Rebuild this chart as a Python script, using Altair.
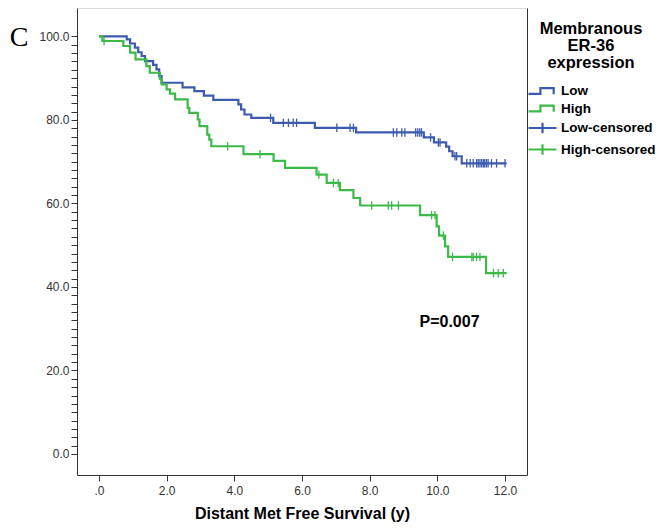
import altair as alt
import pandas as pd

# ---- Kaplan-Meier steps (time in years, survival %) ----
low_t = [0, 0.82, 0.92, 1.06, 1.16, 1.26, 1.36, 1.6, 1.7, 1.78, 1.85, 2.47, 2.82, 3.1, 3.38,
         4.12, 4.2, 4.3, 4.5, 5.15, 6.38, 7.6, 9.6, 9.9, 10.26, 10.35, 10.45, 10.72, 12.05]
low_s = [100, 99.3, 98.3, 97.3, 96.2, 95.3, 94.1, 93.2, 92.1, 90.5, 88.9, 87.8, 86.9, 85.8, 84.8,
         83.7, 82.5, 81.3, 80.5, 79.3, 78.1, 77.0, 75.8, 74.6, 73.6, 72.5, 71.3, 69.6, 69.6]

high_t = [0, 0.1, 0.72, 0.92, 1.08, 1.4, 1.5, 1.8, 1.85, 2.0, 2.1, 2.25, 2.62, 2.67, 2.92, 2.97,
          3.2, 3.26, 3.32, 4.27, 5.16, 5.5, 6.43, 6.73, 7.12, 7.52, 7.72, 9.49, 9.98, 10.05,
          10.23, 10.32, 11.44, 12.05]
high_s = [100, 98.9, 97.7, 96.1, 94.5, 92.9, 91.3, 89.8, 88.5, 87.3, 86.3, 84.9, 82.9, 81.7, 80.1, 78.5,
          76.5, 75.3, 73.7, 71.8, 70.2, 68.5, 66.9, 64.9, 63.2, 61.3, 59.5, 57.2, 54.5, 52.3,
          49.7, 47.2, 43.3, 43.3]

low_cens_t = [5.07, 5.45, 5.6, 5.74, 5.84, 7.03, 7.42, 7.52, 8.7, 8.8, 8.95, 9.04, 9.36, 9.42,
              9.48, 9.53, 9.8, 10.03, 10.08, 10.52, 10.57, 10.87, 10.97, 11.06, 11.16, 11.21,
              11.26, 11.31, 11.36, 11.4, 11.45, 11.5, 11.6, 11.75, 12.0]
low_cens_s = [80.5, 79.3, 79.3, 79.3, 79.3, 78.1, 78.1, 78.1, 77.0, 77.0, 77.0, 77.0, 77.0, 77.0,
              77.0, 77.0, 75.8, 74.6, 74.6, 71.3, 71.3, 69.6, 69.6, 69.6, 69.6, 69.6,
              69.6, 69.6, 69.6, 69.6, 69.6, 69.6, 69.6, 69.6, 69.6]

high_cens_t = [0.15, 3.8, 4.76, 6.5, 6.93, 7.07, 8.06, 8.55, 8.65, 8.85, 9.83, 9.93, 10.18,
               10.45, 11.02, 11.06, 11.16, 11.26, 11.66, 11.8, 11.95]
high_cens_s = [98.9, 73.7, 71.8, 66.9, 64.9, 64.9, 59.5, 59.5, 59.5, 59.5, 57.2, 57.2, 52.3,
               47.2, 47.2, 47.2, 47.2, 47.2, 43.3, 43.3, 43.3]

keys = ["Low", "High", "Low-censored", "High-censored"]
key_colors = ["#3d5bae", "#3cba48", "#3d5bae", "#3cba48"]
legend_title = ["Membranous", "ER-36", "expression"]
x_title = "Distant Met Free Survival (y)"
x_ticks = [0, 2, 4, 6, 8, 10, 12]
y_ticks = list(range(0, 101, 2))
p_text = ["P=0.007"]
p_x = [10.36]
p_y = [31.6]
panel_label = ["C"]

# ---- tables ----
curves = pd.DataFrame({
    "key": ["Low"] * len(low_t) + ["High"] * len(high_t),
    "t": low_t + high_t,
    "s": low_s + high_s,
})
cens = pd.DataFrame({
    "key": ["Low-censored"] * len(low_cens_t) + ["High-censored"] * len(high_cens_t),
    "t": low_cens_t + high_cens_t,
    "s": low_cens_s + high_cens_s,
})
ann = pd.DataFrame({"label": p_text, "t": p_x, "s": p_y})
panel = pd.DataFrame({"label": panel_label})

FONT = "Liberation Sans"
xscale = alt.Scale(domain=[-0.65, 12.65], nice=False, zero=False)
yscale = alt.Scale(domain=[-5.03, 106.8], nice=False, zero=False)
cscale = alt.Scale(domain=keys, range=key_colors)

step_path = "M-1,0.4L0.7,0.4L0.7,-0.4L2.6,-0.4L2.6,0.45"
cross_path = "M-1,0L3,0M1,-0.75L1,0.75"
shape_scale = alt.Scale(domain=keys, range=[step_path, step_path, cross_path, cross_path])
sw_scale = alt.Scale(domain=keys, range=[2.2, 2.2, 1.1, 1.1])

legend_def = alt.Legend(
    title=legend_title, orient="none", legendX=450, legendY=13, padding=0,
    symbolSize=196, symbolFillColor="transparent", symbolOpacity=1, labelOffset=17,
    rowPadding=0.5,
    titleFont=FONT, titleFontSize=16.5, titleFontWeight="bold", titleColor="black",
    titleAlign="center", titleAnchor="middle", titleLineHeight=17, titlePadding=11,
    labelFont=FONT, labelFontSize=13.5, labelFontWeight="bold", labelColor="black",
)

x_axis = alt.Axis(
    orient="bottom",
    values=x_ticks, labelExpr="datum.value == 0 ? '.0' : format(datum.value, '.1f')",
    title=x_title, titleFont=FONT, titleFontSize=16, titleFontWeight="bold",
    titleColor="black", titlePadding=9, labelFont=FONT, labelFontSize=12,
    labelColor="#333333", tickSize=6, tickColor="#333333", domainColor="#333333",
    labelPadding=4, grid=False,
)
y_axis = alt.Axis(
    orient="left",
    values=y_ticks, labelExpr="datum.value % 20 == 0 ? format(datum.value, '.1f') : ''",
    title=None, labelFont=FONT, labelFontSize=12, labelColor="#333333", tickSize=6,
    tickColor="#333333", domainColor="#333333", labelPadding=2, labelOverlap=False,
    labelFlush=False, grid=False,
)
y_right = alt.Axis(orient="right", labels=False, ticks=False, title=None,
                   domainColor="#333333", grid=False)

# legend-only layer (no marks drawn), placed first so its legend settings win
legend_layer = alt.Chart(cens).transform_filter("false").mark_point(
    filled=False, opacity=1
).encode(
    x=alt.X("t:Q", scale=xscale, axis=x_axis),
    y=alt.Y("s:Q", scale=yscale, axis=None),
    color=alt.Color("key:N", scale=cscale, legend=legend_def),
    shape=alt.Shape("key:N", scale=shape_scale, legend=legend_def),
    strokeWidth=alt.StrokeWidth("key:N", scale=sw_scale, legend=legend_def),
)

lines = alt.Chart(curves).mark_line(interpolate="step-after", strokeWidth=2.2).encode(
    x=alt.X("t:Q", scale=xscale, axis=x_axis),
    y=alt.Y("s:Q", scale=yscale, axis=y_axis),
    color=alt.Color("key:N", scale=cscale, legend=legend_def),
)

ticks = alt.Chart(cens).mark_point(shape="M0,-1L0,1", size=72, filled=False,
                                   strokeWidth=1.3, opacity=1).encode(
    x=alt.X("t:Q", scale=xscale, axis=x_axis),
    y=alt.Y("s:Q", scale=yscale, axis=y_right),
    color=alt.Color("key:N", scale=cscale, legend=legend_def),
)

ptext = alt.Chart(ann).mark_text(font=FONT, fontSize=16, fontWeight="bold",
                                 color="black").encode(
    x=alt.X("t:Q", scale=xscale, axis=x_axis),
    y=alt.Y("s:Q", scale=yscale, axis=None),
    text="label:N",
)

panel_text = alt.Chart(panel).mark_text(font="Liberation Serif", fontSize=28,
                                        color="black", align="center",
                                        baseline="middle").encode(
    text="label:N", x=alt.value(-58), y=alt.value(30),
)

chart = alt.layer(legend_layer, lines, ticks, ptext, panel_text).resolve_axis(
    y="independent"
).properties(
    width=450, height=467,
    autosize=alt.AutoSizeParams(type="none"),
    padding={"left": 69, "top": 0, "right": 132, "bottom": 49},
).configure_view(stroke="transparent", strokeWidth=0).configure(background="white")

chart.save("out.html", embed_options={"renderer": "svg", "actions": False})
